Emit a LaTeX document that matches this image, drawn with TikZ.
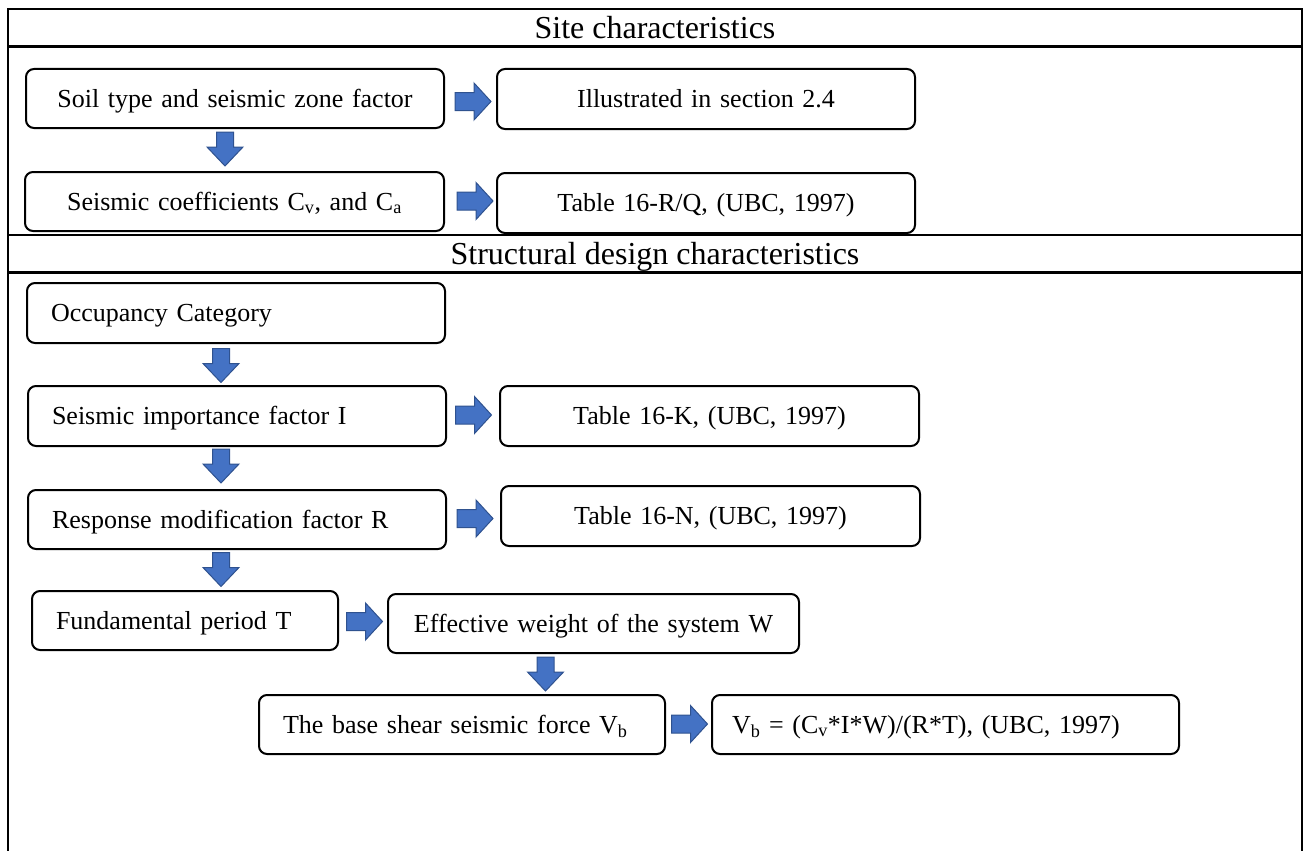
\documentclass[tikz,border=0pt]{standalone}
\usepackage{fontspec}
\setmainfont{Liberation Serif}
\usetikzlibrary{calc}
\definecolor{arrfill}{HTML}{4472C4}
\definecolor{arrline}{HTML}{2F528F}
\tikzset{
  frameline/.style={line width=2.2pt, black},
  box/.style={draw, line width=2pt, rounded corners=8pt, inner ysep=0pt,
    text height=23.4pt, text depth=6.2pt, font=\fontsize{26}{30}\selectfont},
  cbox/.style={box, align=center, inner xsep=0pt},
  lbox/.style={box, align=left, inner xsep=24pt},
  header/.style={inner sep=0pt, text height=28.8pt, text depth=7.7pt, font=\fontsize{32}{36}\selectfont},
  blk/.style={fill=arrfill, draw=arrline, line width=1pt, line join=miter},
}
\newcommand\rarr[3]{\draw[blk, shift={($(#1.east)!0.5!(#2.west)+(#3)$)}]
  (-18,-9) -- (1,-9) -- (1,-18.5) -- (18,0) -- (1,18.5) -- (1,9) -- (-18,9) -- cycle;}
\newcommand\darr[3]{\draw[blk, shift={($(#1.south)!0.5!(#2.north)+(#3)$)}]
  (-8.5,-17) -- (8.5,-17) -- (8.5,-2) -- (18,-2) -- (0,17) -- (-18,-2) -- (-8.5,-2) -- cycle;}
\begin{document}
\begin{tikzpicture}[x=1pt, y=-1pt]
\useasboundingbox (0,0) rectangle (1304,851);
% frame
\draw[frameline] (8,860) -- (8,9) -- (1302,9) -- (1302,860);
\draw[frameline] (8,46.5) -- (1302,46.5);
\draw[frameline] (8,235) -- (1302,235);
\draw[frameline] (8,272.5) -- (1302,272.5);
\node[header] (h1) at (655,27.5) {Site characteristics};
\node[header] (h2) at (655,253.7) {Structural design characteristics};
% site boxes
\node[cbox, text width=418pt, minimum height=59pt] (soil) at (235,98.5) {Soil type and seismic zone factor};
\node[cbox, text width=418pt, minimum height=60pt] (ill) at (706,99) {Illustrated in section 2.4};
\node[cbox, text width=419pt, minimum height=59pt] (seis) at (234.5,201.5) {Seismic coefficients C\textsubscript{v}, and C\textsubscript{a}};
\node[cbox, text width=418pt, minimum height=60pt] (tabRQ) at (706,203) {Table 16-R/Q, (UBC, 1997)};
% structural boxes
\node[lbox, text width=370pt, minimum height=60pt] (occ) at (236,313) {Occupancy Category};
\node[lbox, text width=370pt, minimum height=60pt] (imp) at (237,416) {Seismic importance factor I};
\node[cbox, text width=419pt, minimum height=60pt] (tabK) at (709.5,416) {Table 16-K, (UBC, 1997)};
\node[lbox, text width=370pt, minimum height=59pt] (resp) at (237,519.5) {Response modification factor R};
\node[cbox, text width=419pt, minimum height=60pt] (tabN) at (710.5,516) {Table 16-N, (UBC, 1997)};
\node[lbox, text width=258pt, minimum height=59pt] (fund) at (185,620.5) {Fundamental period T};
\node[cbox, text width=411pt, minimum height=59pt] (eff) at (593.5,623.5) {Effective weight of the system W};
\node[lbox, text width=358pt, minimum height=59pt] (base) at (462,724.5) {The base shear seismic force V\textsubscript{b}};
\node[lbox, inner xsep=20pt, text width=427pt, minimum height=59pt] (vb) at (945.5,724.5) {V\textsubscript{b} = (C\textsubscript{v}*I*W)/(R*T), (UBC, 1997)};
% block arrows
\rarr{soil}{ill}{2.5,2.75}
\darr{soil}{seis}{-9.75,-1}
\rarr{seis}{tabRQ}{4.5,-1.25}
\darr{occ}{imp}{-15.5,1}
\rarr{imp}{tabK}{0.5,-1}
\darr{imp}{resp}{-16,-2}
\rarr{resp}{tabN}{1.5,0.75}
\darr{resp}{fund}{10,-0.5}
\rarr{fund}{eff}{1.5,-0.5}
\darr{eff}{base}{17.75,0}
\rarr{base}{vb}{1,-0.5}
\end{tikzpicture}
\end{document}
